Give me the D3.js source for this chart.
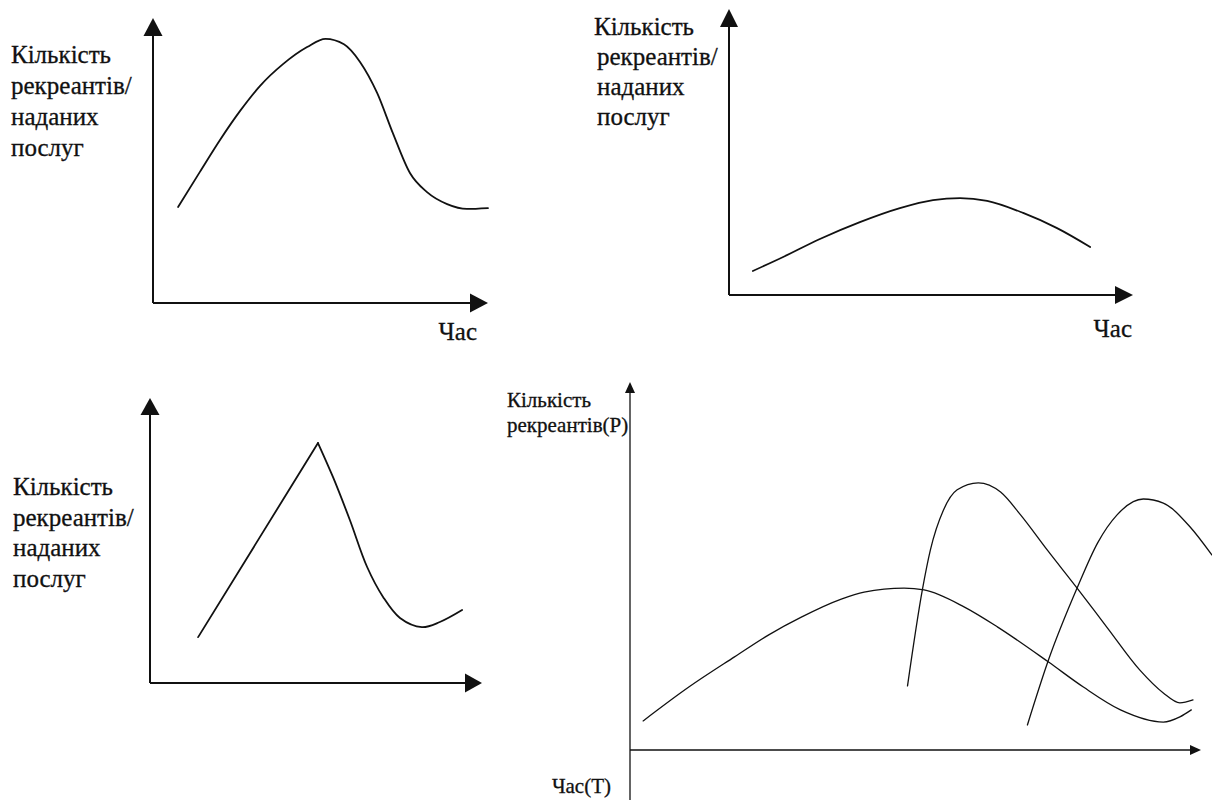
<!DOCTYPE html>
<html>
<head>
<meta charset="utf-8">
<title>Кількість рекреантів</title>
<script src="https://d3js.org/d3.v7.min.js"></script>
<style>
  body, html { margin: 0; padding: 0; background: #fff; }
  .curve { fill: none; stroke: #111; stroke-linejoin: round; stroke-linecap: round; }
  .axis { stroke: #111; }
  .lbl { font-family: "Liberation Serif", "Times New Roman", serif; fill: #111; stroke: #111; stroke-width: 0.3px; }
</style>
</head>
<body>
<svg id="chart" width="1212" height="800"></svg>
<script>
// text
var yLabelLines = ["Кількість", "рекреантів/", "наданих", "послуг"];
var xLabel = "Час";
var yLabelP = ["Кількість", "рекреантів(P)"];
var xLabelT = "Час(Т)";

// panel 1: smooth single peak (time 0..100, count 0..100)
var p1Time  = [7.5, 14, 20, 26, 31.9, 38.8, 46, 51.5, 57, 61.8, 66.9, 71.6, 76.7, 81.8, 87.8, 93.7, 100];
var p1Count = [33.7, 46, 57.2, 67.4, 76.1, 83.8, 89.8, 92.7, 90.8, 84.6, 73.7, 59.6, 45.6, 38.9, 34.7, 33, 33.3];

// panel 2: flat wide hump
var p2Time  = [5.9, 13.4, 22.5, 32.4, 42.3, 50.5, 57.2, 63.9, 72.8, 81.2, 89.4];
var p2Count = [8.4, 13.3, 19.6, 25.5, 30.4, 33.2, 33.9, 32.9, 28.7, 23.4, 16.8];

// panel 3: straight rise to a sharp peak, then curved fall
var p3RiseTime  = [14.5, 50.6];
var p3RiseCount = [16.1, 84.2];
var p3FallTime  = [50.6, 55.1, 60.2, 65.4, 70.2, 75.3, 81.9, 87.3, 94];
var p3FallCount = [84.2, 72.3, 57.2, 40.7, 30.2, 22.8, 19.6, 21.4, 25.6];

// panel 4: three overlapping waves
var p4aTime  = [2.3, 10.3, 18.3, 24.3, 30, 37, 41, 48, 51.5, 58.5, 64.4, 73.3, 79.4, 85.9, 93.4, 96.3, 98.3];
var p4aCount = [7.9, 17.1, 25.3, 31.3, 36.1, 41, 42.9, 44, 43.5, 38.9, 33.4, 23.9, 17.1, 10.9, 7.6, 9, 10.9];
var p4bTime  = [48.6, 51.2, 52.6, 54.9, 57.3, 61, 64.9, 68.4, 73.1, 78.3, 83.6, 89.3, 93.4, 96.3, 98.6];
var p4bCount = [17.4, 43.5, 54.3, 65.2, 70.7, 72.6, 70.1, 63.9, 54.3, 44, 33.2, 21.7, 15.5, 12.8, 13.6];
var p4cTime  = [69.6, 73.3, 78.3, 81.9, 85.3, 89.9, 93.4, 98.1, 101.9];
var p4cCount = [6.8, 24.5, 44, 56.3, 63.9, 68.2, 67.1, 60.6, 53];

function pts(t, v) { return t.map(function (d, i) { return [d, v[i]]; }); }

var smooth = d3.curveMonotoneX;

var panels = [
  { x0: 153, x1: 488, y0: 303, y1: 18, head: [18, 9.5], axisW: 2, curveW: 1.8,
    series: [{ data: pts(p1Time, p1Count), curve: smooth }],
    ylab: { x: 11, y: 63, dy: 31, size: 25, lines: yLabelLines },
    xlab: { x: 477, y: 340, size: 25, text: xLabel } },
  { x0: 729, x1: 1133, y0: 295, y1: 9, head: [18, 9], axisW: 2, curveW: 1.8,
    series: [{ data: pts(p2Time, p2Count), curve: smooth }],
    ylab: { x: 594, y: 35, dy: 30, size: 25, lines: yLabelLines, indent: 3 },
    xlab: { x: 1132, y: 337, size: 25, text: xLabel } },
  { x0: 150, x1: 482, y0: 683, y1: 398, head: [17, 9.5], axisW: 2, curveW: 1.8,
    series: [{ data: pts(p3RiseTime, p3RiseCount), curve: d3.curveLinear },
             { data: pts(p3FallTime, p3FallCount), curve: d3.curveCatmullRom }],
    ylab: { x: 13, y: 495, dy: 30.7, size: 25, lines: yLabelLines } },
  { x0: 630, x1: 1201, y0: 750, y1: 382, head: [11, 5], axisW: 1.3, curveW: 1.3, yExtend: 800,
    series: [{ data: pts(p4aTime, p4aCount), curve: smooth },
             { data: pts(p4bTime, p4bCount), curve: smooth },
             { data: pts(p4cTime, p4cCount), curve: smooth }],
    ylab: { x: 507, y: 407, dy: 24.5, size: 21, lines: yLabelP },
    xlab: { x: 611, y: 793, size: 21, text: xLabelT } }
];

var svg = d3.select("#chart");
svg.append("rect").attr("width", 1212).attr("height", 800).attr("fill", "#fff");

panels.forEach(function (p) {
  var x = d3.scaleLinear().domain([0, 100]).range([p.x0, p.x1]);
  var y = d3.scaleLinear().domain([0, 100]).range([p.y0, p.y1]);
  var g = svg.append("g");
  var len = p.head[0], hw = p.head[1];

  // axes
  g.append("line").attr("class", "axis")
    .attr("x1", x(0)).attr("y1", p.yExtend || y(0))
    .attr("x2", x(0)).attr("y2", y(100) + len)
    .attr("stroke-width", p.axisW);
  g.append("line").attr("class", "axis")
    .attr("x1", x(0)).attr("y1", y(0))
    .attr("x2", x(100) - len).attr("y2", y(0))
    .attr("stroke-width", p.axisW);

  // arrow heads
  g.append("path")
    .attr("d", "M" + x(0) + "," + y(100) + "L" + (x(0) + hw) + "," + (y(100) + len) +
               "L" + (x(0) - hw) + "," + (y(100) + len) + "Z")
    .attr("fill", "#111");
  g.append("path")
    .attr("d", "M" + x(100) + "," + y(0) + "L" + (x(100) - len) + "," + (y(0) - hw) +
               "L" + (x(100) - len) + "," + (y(0) + hw) + "Z")
    .attr("fill", "#111");

  // curves
  p.series.forEach(function (s) {
    var line = d3.line()
      .x(function (d) { return x(d[0]); })
      .y(function (d) { return y(d[1]); })
      .curve(s.curve);
    g.append("path").attr("class", "curve")
      .attr("d", line(s.data))
      .attr("stroke-width", p.curveW);
  });

  // labels
  var yl = p.ylab;
  g.selectAll(null).data(yl.lines).enter().append("text")
    .attr("class", "lbl")
    .attr("x", function (d, i) { return yl.x + (i > 0 && yl.indent ? yl.indent : 0); })
    .attr("y", function (d, i) { return yl.y + i * yl.dy; })
    .attr("font-size", yl.size)
    .text(function (d) { return d; });

  if (p.xlab) {
    g.append("text")
      .attr("class", "lbl")
      .attr("x", p.xlab.x).attr("y", p.xlab.y)
      .attr("text-anchor", "end")
      .attr("font-size", p.xlab.size)
      .text(p.xlab.text);
  }
});
</script>
</body>
</html>
